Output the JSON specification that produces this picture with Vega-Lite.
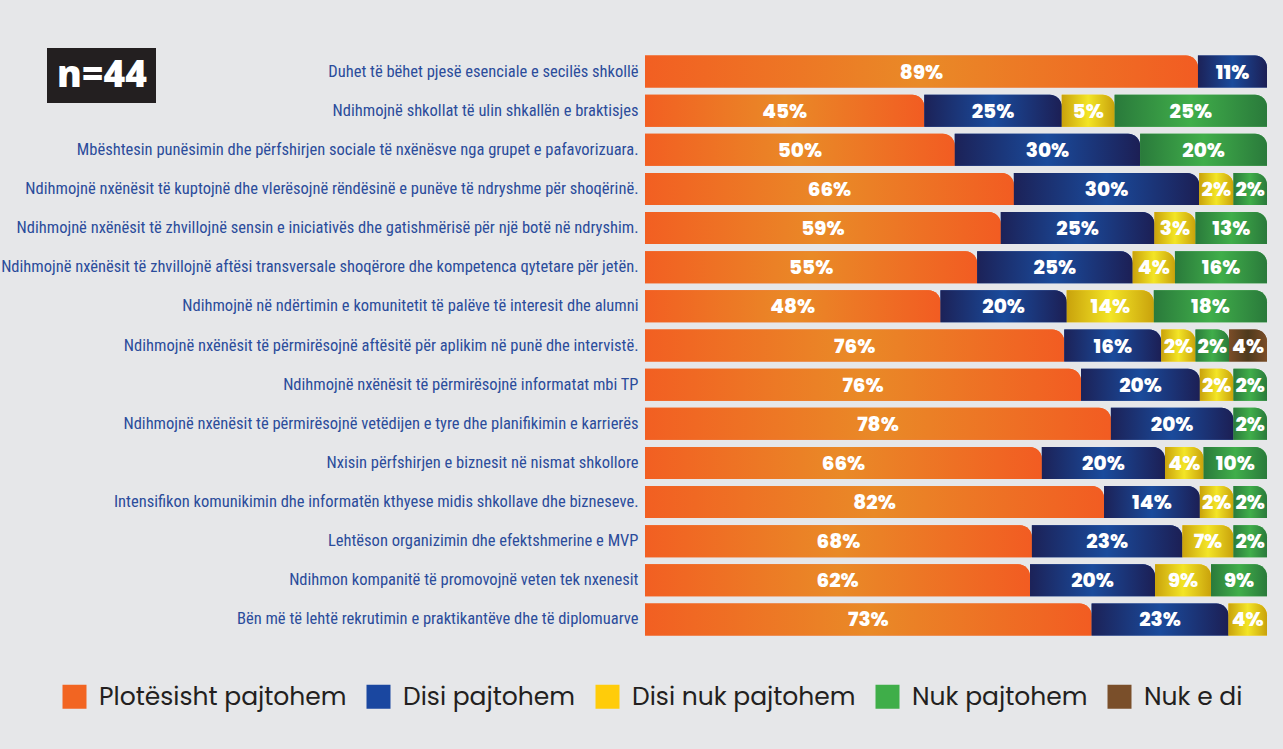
{
  "$schema": "https://vega.github.io/schema/vega-lite/v6.json",
  "width": 622,
  "height": 587,
  "autosize": {"type": "none"},
  "padding": {"left": 645, "top": 52, "right": 16, "bottom": 110},
  "background": "#e6e7e9",
  "config": {"view": {"stroke": null}},
  "layer": [
    {
      "data": {
        "values": [
          {"item": "Duhet të bëhet pjesë esenciale e secilës shkollë", "cat": "Plotësisht pajtohem", "pct": 89, "share": 88.9},
          {"item": "Duhet të bëhet pjesë esenciale e secilës shkollë", "cat": "Disi pajtohem", "pct": 11, "share": 11.1},
          {"item": "Ndihmojnë shkollat të ulin shkallën e braktisjes", "cat": "Plotësisht pajtohem", "pct": 45, "share": 44.9},
          {"item": "Ndihmojnë shkollat të ulin shkallën e braktisjes", "cat": "Disi pajtohem", "pct": 25, "share": 22.1},
          {"item": "Ndihmojnë shkollat të ulin shkallën e braktisjes", "cat": "Disi nuk pajtohem", "pct": 5, "share": 8.5},
          {"item": "Ndihmojnë shkollat të ulin shkallën e braktisjes", "cat": "Nuk pajtohem", "pct": 25, "share": 24.5},
          {"item": "Mbështesin punësimin dhe përfshirjen sociale të nxënësve nga grupet e pafavorizuara.", "cat": "Plotësisht pajtohem", "pct": 50, "share": 49.8},
          {"item": "Mbështesin punësimin dhe përfshirjen sociale të nxënësve nga grupet e pafavorizuara.", "cat": "Disi pajtohem", "pct": 30, "share": 29.8},
          {"item": "Mbështesin punësimin dhe përfshirjen sociale të nxënësve nga grupet e pafavorizuara.", "cat": "Nuk pajtohem", "pct": 20, "share": 20.4},
          {"item": "Ndihmojnë nxënësit të kuptojnë dhe vlerësojnë rëndësinë e punëve të ndryshme për shoqërinë.", "cat": "Plotësisht pajtohem", "pct": 66, "share": 59.3},
          {"item": "Ndihmojnë nxënësit të kuptojnë dhe vlerësojnë rëndësinë e punëve të ndryshme për shoqërinë.", "cat": "Disi pajtohem", "pct": 30, "share": 29.8},
          {"item": "Ndihmojnë nxënësit të kuptojnë dhe vlerësojnë rëndësinë e punëve të ndryshme për shoqërinë.", "cat": "Disi nuk pajtohem", "pct": 2, "share": 5.5},
          {"item": "Ndihmojnë nxënësit të kuptojnë dhe vlerësojnë rëndësinë e punëve të ndryshme për shoqërinë.", "cat": "Nuk pajtohem", "pct": 2, "share": 5.4},
          {"item": "Ndihmojnë nxënësit të zhvillojnë sensin e iniciativës dhe gatishmërisë për një botë në ndryshim.", "cat": "Plotësisht pajtohem", "pct": 59, "share": 57.2},
          {"item": "Ndihmojnë nxënësit të zhvillojnë sensin e iniciativës dhe gatishmërisë për një botë në ndryshim.", "cat": "Disi pajtohem", "pct": 25, "share": 24.7},
          {"item": "Ndihmojnë nxënësit të zhvillojnë sensin e iniciativës dhe gatishmërisë për një botë në ndryshim.", "cat": "Disi nuk pajtohem", "pct": 3, "share": 6.6},
          {"item": "Ndihmojnë nxënësit të zhvillojnë sensin e iniciativës dhe gatishmërisë për një botë në ndryshim.", "cat": "Nuk pajtohem", "pct": 13, "share": 11.5},
          {"item": "Ndihmojnë nxënësit të zhvillojnë aftësi transversale shoqërore dhe kompetenca qytetare për jetën.", "cat": "Plotësisht pajtohem", "pct": 55, "share": 53.4},
          {"item": "Ndihmojnë nxënësit të zhvillojnë aftësi transversale shoqërore dhe kompetenca qytetare për jetën.", "cat": "Disi pajtohem", "pct": 25, "share": 25.0},
          {"item": "Ndihmojnë nxënësit të zhvillojnë aftësi transversale shoqërore dhe kompetenca qytetare për jetën.", "cat": "Disi nuk pajtohem", "pct": 4, "share": 6.8},
          {"item": "Ndihmojnë nxënësit të zhvillojnë aftësi transversale shoqërore dhe kompetenca qytetare për jetën.", "cat": "Nuk pajtohem", "pct": 16, "share": 14.8},
          {"item": "Ndihmojnë në ndërtimin e komunitetit të palëve të interesit dhe alumni", "cat": "Plotësisht pajtohem", "pct": 48, "share": 47.5},
          {"item": "Ndihmojnë në ndërtimin e komunitetit të palëve të interesit dhe alumni", "cat": "Disi pajtohem", "pct": 20, "share": 20.3},
          {"item": "Ndihmojnë në ndërtimin e komunitetit të palëve të interesit dhe alumni", "cat": "Disi nuk pajtohem", "pct": 14, "share": 14.0},
          {"item": "Ndihmojnë në ndërtimin e komunitetit të palëve të interesit dhe alumni", "cat": "Nuk pajtohem", "pct": 18, "share": 18.2},
          {"item": "Ndihmojnë nxënësit të përmirësojnë aftësitë për aplikim në punë dhe intervistë.", "cat": "Plotësisht pajtohem", "pct": 76, "share": 67.4},
          {"item": "Ndihmojnë nxënësit të përmirësojnë aftësitë për aplikim në punë dhe intervistë.", "cat": "Disi pajtohem", "pct": 16, "share": 15.6},
          {"item": "Ndihmojnë nxënësit të përmirësojnë aftësitë për aplikim në punë dhe intervistë.", "cat": "Disi nuk pajtohem", "pct": 2, "share": 5.5},
          {"item": "Ndihmojnë nxënësit të përmirësojnë aftësitë për aplikim në punë dhe intervistë.", "cat": "Nuk pajtohem", "pct": 2, "share": 5.4},
          {"item": "Ndihmojnë nxënësit të përmirësojnë aftësitë për aplikim në punë dhe intervistë.", "cat": "Nuk e di", "pct": 4, "share": 6.1},
          {"item": "Ndihmojnë nxënësit të përmirësojnë informatat mbi TP", "cat": "Plotësisht pajtohem", "pct": 76, "share": 70.1},
          {"item": "Ndihmojnë nxënësit të përmirësojnë informatat mbi TP", "cat": "Disi pajtohem", "pct": 20, "share": 19.1},
          {"item": "Ndihmojnë nxënësit të përmirësojnë informatat mbi TP", "cat": "Disi nuk pajtohem", "pct": 2, "share": 5.4},
          {"item": "Ndihmojnë nxënësit të përmirësojnë informatat mbi TP", "cat": "Nuk pajtohem", "pct": 2, "share": 5.4},
          {"item": "Ndihmojnë nxënësit të përmirësojnë vetëdijen e tyre dhe planifikimin e karrierës", "cat": "Plotësisht pajtohem", "pct": 78, "share": 74.9},
          {"item": "Ndihmojnë nxënësit të përmirësojnë vetëdijen e tyre dhe planifikimin e karrierës", "cat": "Disi pajtohem", "pct": 20, "share": 19.7},
          {"item": "Ndihmojnë nxënësit të përmirësojnë vetëdijen e tyre dhe planifikimin e karrierës", "cat": "Nuk pajtohem", "pct": 2, "share": 5.4},
          {"item": "Nxisin përfshirjen e biznesit në nismat shkollore", "cat": "Plotësisht pajtohem", "pct": 66, "share": 63.8},
          {"item": "Nxisin përfshirjen e biznesit në nismat shkollore", "cat": "Disi pajtohem", "pct": 20, "share": 19.8},
          {"item": "Nxisin përfshirjen e biznesit në nismat shkollore", "cat": "Disi nuk pajtohem", "pct": 4, "share": 6.2},
          {"item": "Nxisin përfshirjen e biznesit në nismat shkollore", "cat": "Nuk pajtohem", "pct": 10, "share": 10.2},
          {"item": "Intensifikon komunikimin dhe informatën kthyese midis shkollave dhe bizneseve.", "cat": "Plotësisht pajtohem", "pct": 82, "share": 73.8},
          {"item": "Intensifikon komunikimin dhe informatën kthyese midis shkollave dhe bizneseve.", "cat": "Disi pajtohem", "pct": 14, "share": 15.4},
          {"item": "Intensifikon komunikimin dhe informatën kthyese midis shkollave dhe bizneseve.", "cat": "Disi nuk pajtohem", "pct": 2, "share": 5.4},
          {"item": "Intensifikon komunikimin dhe informatën kthyese midis shkollave dhe bizneseve.", "cat": "Nuk pajtohem", "pct": 2, "share": 5.4},
          {"item": "Lehtëson organizimin dhe efektshmerine e MVP", "cat": "Plotësisht pajtohem", "pct": 68, "share": 62.2},
          {"item": "Lehtëson organizimin dhe efektshmerine e MVP", "cat": "Disi pajtohem", "pct": 23, "share": 24.2},
          {"item": "Lehtëson organizimin dhe efektshmerine e MVP", "cat": "Disi nuk pajtohem", "pct": 7, "share": 8.2},
          {"item": "Lehtëson organizimin dhe efektshmerine e MVP", "cat": "Nuk pajtohem", "pct": 2, "share": 5.4},
          {"item": "Ndihmon kompanitë të promovojnë veten tek nxenesit", "cat": "Plotësisht pajtohem", "pct": 62, "share": 61.9},
          {"item": "Ndihmon kompanitë të promovojnë veten tek nxenesit", "cat": "Disi pajtohem", "pct": 20, "share": 20.1},
          {"item": "Ndihmon kompanitë të promovojnë veten tek nxenesit", "cat": "Disi nuk pajtohem", "pct": 9, "share": 9.0},
          {"item": "Ndihmon kompanitë të promovojnë veten tek nxenesit", "cat": "Nuk pajtohem", "pct": 9, "share": 9.0},
          {"item": "Bën më të lehtë rekrutimin e praktikantëve dhe të diplomuarve", "cat": "Plotësisht pajtohem", "pct": 73, "share": 71.8},
          {"item": "Bën më të lehtë rekrutimin e praktikantëve dhe të diplomuarve", "cat": "Disi pajtohem", "pct": 23, "share": 22.0},
          {"item": "Bën më të lehtë rekrutimin e praktikantëve dhe të diplomuarve", "cat": "Disi nuk pajtohem", "pct": 4, "share": 6.2}
        ]
      },
      "transform": [
        {"calculate": "indexof(['Plotësisht pajtohem','Disi pajtohem','Disi nuk pajtohem','Nuk pajtohem','Nuk e di'], datum.cat)", "as": "k"},
        {"stack": "share", "groupby": ["item"], "sort": [{"field": "k", "order": "ascending"}], "as": ["x0", "x1"]},
        {"calculate": "(datum.x0 + datum.x1) / 2", "as": "mid"},
        {"calculate": "datum.pct + '%'", "as": "lbl"}
      ],
      "encoding": {
        "y": {
          "field": "item",
          "type": "nominal",
          "sort": null,
          "title": null,
          "scale": {"paddingInner": 0.182, "paddingOuter": 0.091},
          "axis": {
            "domain": false,
            "ticks": false,
            "labelPadding": 7,
            "labelLimit": 700,
            "labelFont": "Roboto Condensed, Liberation Sans Narrow, Arial Narrow, Noto Sans Condensed, Open Sans Condensed, DejaVu Sans Condensed, sans-serif",
            "labelFontSize": 16.5,
            "labelColor": "#2b4c9b"
          }
        }
      },
      "layer": [
        {
          "mark": {"type": "bar", "cornerRadiusTopRight": 12},
          "encoding": {
            "x": {"field": "x0", "type": "quantitative", "scale": {"domain": [0, 100]}, "axis": null},
            "x2": {"field": "x1"},
            "color": {
              "field": "cat",
              "type": "nominal",
              "scale": {
                "domain": ["Plotësisht pajtohem", "Disi pajtohem", "Disi nuk pajtohem", "Nuk pajtohem", "Nuk e di"],
                "range": ["#f26522", "#1a47a0", "#ffcc0a", "#3fae49", "#7a4f2a"]
              },
              "legend": {
                "orient": "none",
                "legendX": -583,
                "legendY": 632,
                "direction": "horizontal",
                "title": null,
                "symbolType": "square",
                "symbolSize": 576,
                "symbolStrokeWidth": 0,
                "symbolOpacity": 1,
                "labelFont": "Poppins, Noto Sans, sans-serif",
                "labelFontSize": 25,
                "labelColor": "#231f20",
                "labelOffset": 12,
                "columnPadding": 19,
                "labelLimit": 400
              }
            }
          }
        },
        {
          "mark": {"type": "bar", "cornerRadiusTopRight": 12},
          "encoding": {
            "x": {"field": "x0", "type": "quantitative"},
            "x2": {"field": "x1"},
            "fill": {
              "condition": [
                {"test": "datum.cat === 'Disi pajtohem'", "value": {"gradient": "linear", "stops": [{"offset": 0, "color": "#1c2258"}, {"offset": 0.5, "color": "#1a4b9c"}, {"offset": 1, "color": "#1c1f55"}]}},
                {"test": "datum.cat === 'Disi nuk pajtohem'", "value": {"gradient": "linear", "stops": [{"offset": 0, "color": "#c9a20c"}, {"offset": 0.5, "color": "#f3e526"}, {"offset": 1, "color": "#c9a20c"}]}},
                {"test": "datum.cat === 'Nuk pajtohem'", "value": {"gradient": "linear", "stops": [{"offset": 0, "color": "#2a7a3b"}, {"offset": 0.5, "color": "#40ae4a"}, {"offset": 1, "color": "#2a7a3b"}]}},
                {"test": "datum.cat === 'Nuk e di'", "value": {"gradient": "linear", "stops": [{"offset": 0, "color": "#7b4d28"}, {"offset": 0.5, "color": "#4e3a1d"}, {"offset": 1, "color": "#7b4d28"}]}}
              ],
              "value": {"gradient": "linear", "stops": [{"offset": 0, "color": "#f25f22"}, {"offset": 0.5, "color": "#e98a27"}, {"offset": 1, "color": "#f25c22"}]}
            }
          }
        },
        {
          "mark": {"type": "text", "color": "white", "font": "Poppins, Open Sans, sans-serif", "fontWeight": 800, "fontSize": 20, "baseline": "middle", "dy": 1},
          "encoding": {
            "x": {"field": "mid", "type": "quantitative"},
            "text": {"field": "lbl", "type": "nominal"}
          }
        }
      ]
    },
    {
      "data": {"values": [{"note": "n=44"}]},
      "mark": {"type": "point", "opacity": 0},
      "encoding": {
        "shape": {
          "field": "note",
          "type": "nominal",
          "legend": {
            "orient": "none",
            "legendX": -598,
            "legendY": -4,
            "title": null,
            "fillColor": "#231f20",
            "padding": 9,
            "symbolSize": 0,
            "symbolOpacity": 0,
            "labelOffset": -36,
            "labelFont": "Open Sans, sans-serif",
            "labelFontWeight": 800,
            "labelFontSize": 37,
            "labelColor": "white"
          }
        }
      }
    }
  ]
}
